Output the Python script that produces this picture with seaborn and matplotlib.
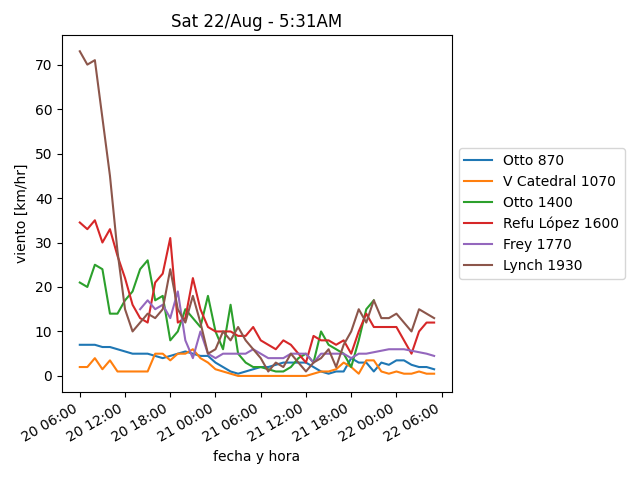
import numpy as np
import pandas as pd
import seaborn as sns
import matplotlib
matplotlib.use('Agg')
import matplotlib.pyplot as plt
import matplotlib.dates as mdates

nan = np.nan
times = pd.date_range('2020-08-20 06:00', periods=48, freq='h')

otto_870 = [7, 7, 7, 6.5, 6.5, 6, 5.5, 5, 5, 5, 4.5, 4, 4.5, 5, 5.5, 5, 4.5, 4.5, 3, 2,
            1, 0.5, 1, 1.5, 2, 2, 2.5, 3, 3, 3, 3, 2, 1, 0.5, 1, 1, 4, 3, 3, 1,
            3, 2.5, 3.5, 3.5, 2.5, 2, 2, 1.5]
v_catedral = [2, 2, 4, 1.5, 3.5, 1, 1, 1, 1, 1, 5, 5, 3.5, 5, 5, 6, 4, 3, 1.5, 1,
              0.5, 0, 0, 0, 0, 0, 0, 0, 0, 0, 0, 0.5, 1, 1, 1.5, 3, 2, 0.5, 3.5, 3.5,
              1, 0.5, 1, 0.5, 0.5, 1, 0.5, 0.5]
otto_1400 = [21, 20, 25, 24, 14, 14, 17, 19, 24, 26, 17, 18, 8, 10, 15, 13, 11, 18, 10, 6,
             16, 5, 3, 2, 2, 1.5, 1, 1, 2, 4, 5, 3, 10, 7, 6, 5, 2, 8, 15, 17,
             nan, nan, nan, nan, nan, nan, nan, nan]
refu_lopez = [34.5, 33, 35, 30, 33, 27, 22, 16, 13, 12, 21, 23, 31, 12, 13, 22, 15, 11, 10, 10,
              10, 9, 9, 11, 8, 7, 6, 8, 7, 5, 3, 9, 8, 8, 7, 8, 5, 10, 14, 11,
              11, 11, 11, 8, 5, 10, 12, 12]
frey = [nan, nan, nan, nan, nan, nan, nan, nan, 15, 17, 15, 16, 13, 19, 8, 4, 10, 5, 4, 5,
        5, 5, 5, 6, 5, 4, 4, 4, 5, 5, 5, 3, 5, 5, 5, 5, 4, 5, 5, nan,
        nan, 6, 6, 6, nan, nan, 5, 4.5]
lynch = [73, 70, 71, 58, 45, 28, 15, 10, 12, 14, 13, 15, 24, 15, 12, 18, 12, 5, 6, 10,
         8, 11, 8, 6, 4, 1, 3, 2, 5, 3, 1, 3, 4, 6, 2, 7, 10, 15, 12, 17,
         13, 13, 14, 12, 10, 15, 14, 13]

series = {'Otto 870': otto_870, 'V Catedral 1070': v_catedral, 'Otto 1400': otto_1400,
          'Refu López 1600': refu_lopez, 'Frey 1770': frey, 'Lynch 1930': lynch}

fig, ax = plt.subplots(figsize=(6.4, 4.8), dpi=100)
for name, values in series.items():
    sns.lineplot(x=times, y=np.array(values, dtype=float), ax=ax, label=name)

ax.set_title('Sat 22/Aug - 5:31AM')
ax.set_xlabel('fecha y hora')
ax.set_ylabel('viento [km/hr]')
ax.set_xticks(pd.date_range('2020-08-20 06:00', periods=9, freq='6h'))
ax.xaxis.set_major_formatter(mdates.DateFormatter('%d %H:%M'))
ax.legend(loc='center left', bbox_to_anchor=(1.0, 0.5))
fig.autofmt_xdate()
fig.subplots_adjust(left=0.097, right=0.706, top=0.927, bottom=0.183)
fig.savefig('out.png')
